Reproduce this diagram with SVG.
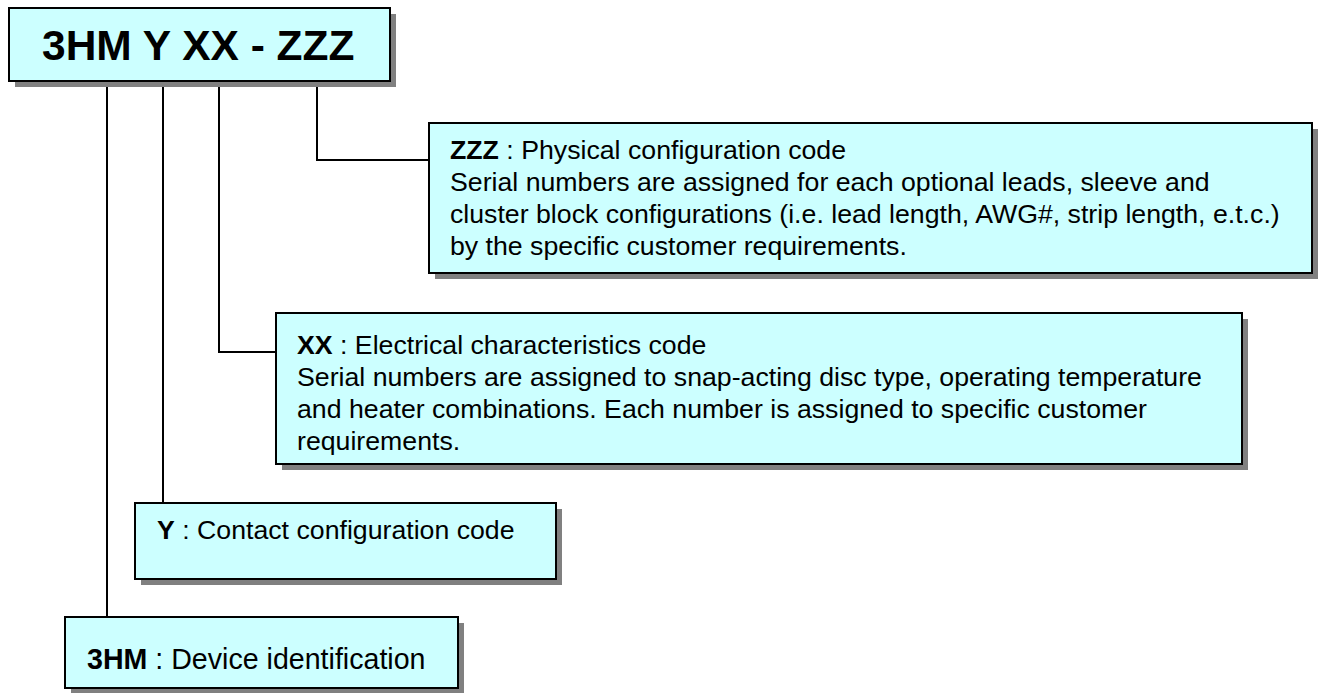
<svg xmlns="http://www.w3.org/2000/svg" width="1318" height="693" viewBox="0 0 1318 693">
<style>
.box{fill:#CCFFFF;stroke:#000;stroke-width:2}
.sh{fill:#808080}
.t{font-family:"Liberation Sans",Arial,sans-serif;font-size:26.7px;fill:#000}
.b{font-weight:bold}
.con{fill:none;stroke:#000;stroke-width:2}
</style>
<rect width="1318" height="693" fill="#fff"/>
<g id="title">
<rect class="sh" x="15" y="14" width="381" height="73"/>
<rect class="box" x="9" y="8" width="381" height="73"/>
<text class="t b" x="42" y="60" style="font-size:42.5px">3HM Y XX - ZZZ</text>
</g>
<g id="connectors">
<polyline class="con" points="107,87 107,617"/>
<polyline class="con" points="163,87 163,503"/>
<polyline class="con" points="219,87 219,352 276,352"/>
<polyline class="con" points="317,87 317,160 429,160"/>
</g>
<g id="zzz">
<rect class="sh" x="435" y="129" width="883" height="150"/>
<rect class="box" x="429" y="123" width="883" height="150"/>
<text class="t" x="450" y="159"><tspan class="b">ZZZ</tspan> : Physical configuration code</text>
<text class="t" x="450" y="191">Serial numbers are assigned for each optional leads, sleeve and</text>
<text class="t" x="450" y="223">cluster block configurations (i.e. lead length, AWG#, strip length, e.t.c.)</text>
<text class="t" x="450" y="255">by the specific customer requirements.</text>
</g>
<g id="xx">
<rect class="sh" x="282" y="319" width="966" height="151"/>
<rect class="box" x="276" y="313" width="966" height="151"/>
<text class="t" x="297" y="354"><tspan class="b">XX</tspan> : Electrical characteristics code</text>
<text class="t" x="297" y="386">Serial numbers are assigned to snap-acting disc type, operating temperature</text>
<text class="t" x="297" y="418">and heater combinations. Each number is assigned to specific customer</text>
<text class="t" x="297" y="450">requirements.</text>
</g>
<g id="y">
<rect class="sh" x="141" y="509" width="421" height="76"/>
<rect class="box" x="135" y="503" width="421" height="76"/>
<text class="t" x="157" y="539"><tspan class="b">Y</tspan> : Contact configuration code</text>
</g>
<g id="hm">
<rect class="sh" x="71" y="623" width="393" height="71"/>
<rect class="box" x="65" y="617" width="393" height="71"/>
<text class="t" x="87" y="669" style="font-size:28.6px"><tspan class="b">3HM</tspan> : Device identification</text>
</g>
</svg>
